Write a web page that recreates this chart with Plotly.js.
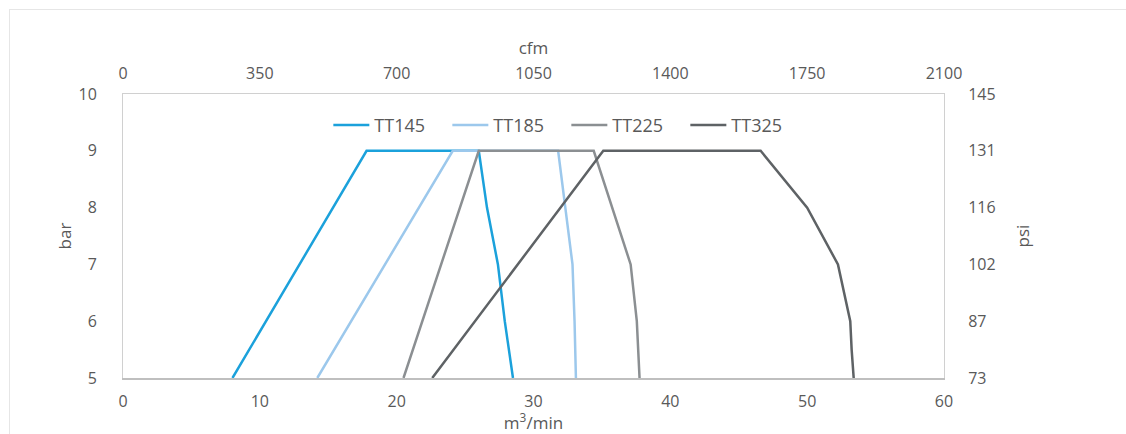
<!DOCTYPE html>
<html><head><meta charset="utf-8">
<script src="https://cdn.plot.ly/plotly-3.0.1.min.js"></script>
<style>
html,body{margin:0;padding:0;background:#fff;}
#wrap{position:relative;width:1126px;height:434px;overflow:hidden;}
#chart{position:absolute;left:0;top:0;width:1126px;height:434px;}
#frame{position:absolute;left:9px;top:9px;width:1120px;height:440px;border:1.5px solid #e6e6e6;pointer-events:none;}
</style></head>
<body><div id="wrap"><div id="frame"></div><div id="chart"></div></div>
<script>
const seriesNames = ["TT145", "TT185", "TT225", "TT325"];
const seriesColors = ["#1ba1db", "#9cc8ec", "#8b8f92", "#5e6265"];
const tt145_flow = [8.0, 17.8, 26.0, 26.6, 27.4, 27.9, 28.5];
const tt145_bar  = [5, 9, 9, 8, 7, 6, 5];
const tt185_flow = [14.2, 24.1, 31.8, 32.3, 32.85, 33.0, 33.1];
const tt185_bar  = [5, 9, 9, 8, 7, 6, 5];
const tt225_flow = [20.5, 26.0, 34.4, 37.1, 37.55, 37.75];
const tt225_bar  = [5, 9, 9, 7, 6, 5];
const tt325_flow = [22.6, 35.1, 46.6, 50.0, 52.25, 53.15, 53.25, 53.4];
const tt325_bar  = [5, 9, 9, 8, 7, 6, 5.5, 5];
const psiTickVals = [5, 6, 7, 8, 9, 10];
const psiTickText = ["73", "87", "102", "116", "131", "145"];
const cfmRange = [0, 2100];

const flows = [tt145_flow, tt185_flow, tt225_flow, tt325_flow];
const bars = [tt145_bar, tt185_bar, tt225_bar, tt325_bar];
const font = {family: "Open Sans, Noto Sans, sans-serif", color: "#595959", size: 16};
const traces = seriesNames.map((n, i) => ({
  type: "scatter", mode: "lines", name: n, x: flows[i], y: bars[i],
  line: {color: seriesColors[i], width: 2.5}, xaxis: "x", yaxis: "y"
}));
traces.push({type: "scatter", mode: "lines", x: cfmRange, y: [5, 5], xaxis: "x2", yaxis: "y2",
  showlegend: false, hoverinfo: "skip", line: {color: "rgba(0,0,0,0)", width: 0}});

const layout = {
  width: 1126, height: 434,
  margin: {l: 123, r: 182, t: 94, b: 56},
  paper_bgcolor: "rgba(0,0,0,0)", plot_bgcolor: "#fff",
  font: font, showlegend: true,
  legend: {orientation: "h", x: 0.54, xanchor: "center", y: 0.89, yanchor: "middle",
    font: {family: font.family, size: 18, color: "#595959"}, bgcolor: "rgba(0,0,0,0)",
    itemwidth: 36, entrywidth: 68, entrywidthmode: "pixels"},
  xaxis: {range: [0, 60], dtick: 10, tick0: 0, showgrid: false, zeroline: false,
    showline: true, linecolor: "#bfbfbf", linewidth: 1.5, mirror: false, ticks: "", ticklabelstandoff: 8,
    tickfont: {size: 16, color: "#595959"},
    title: {text: "m<sup>3</sup>/min", font: {size: 17, color: "#595959"}, standoff: 10}},
  yaxis: {range: [5, 10], dtick: 1, showgrid: false, zeroline: false,
    showline: true, linecolor: "#d0d0d0", linewidth: 1, ticks: "", ticklabelstandoff: 22,
    tickfont: {size: 16, color: "#595959"},
    title: {text: "bar", font: {size: 17, color: "#595959"}, standoff: 2}},
  xaxis2: {range: cfmRange, dtick: 350, tick0: 0, overlaying: "x", side: "top", anchor: "y2",
    showgrid: false, zeroline: false, showline: true, linecolor: "#d0d0d0", linewidth: 1, ticks: "",
    ticklabelstandoff: 8, tickfont: {size: 16, color: "#595959"},
    title: {text: "cfm", font: {size: 17, color: "#595959"}, standoff: 2}},
  yaxis2: {range: [5, 10], overlaying: "y", side: "right", anchor: "x2",
    tickmode: "array", tickvals: psiTickVals, ticktext: psiTickText,
    showgrid: false, zeroline: false, showline: true, linecolor: "#d0d0d0", linewidth: 1, ticks: "",
    ticklabelstandoff: 20, tickfont: {size: 16, color: "#595959"},
    title: {text: "psi", font: {size: 17, color: "#595959"}, standoff: 22}}
};
Plotly.newPlot("chart", traces, layout, {displayModeBar: false, staticPlot: true});
</script></body></html>
